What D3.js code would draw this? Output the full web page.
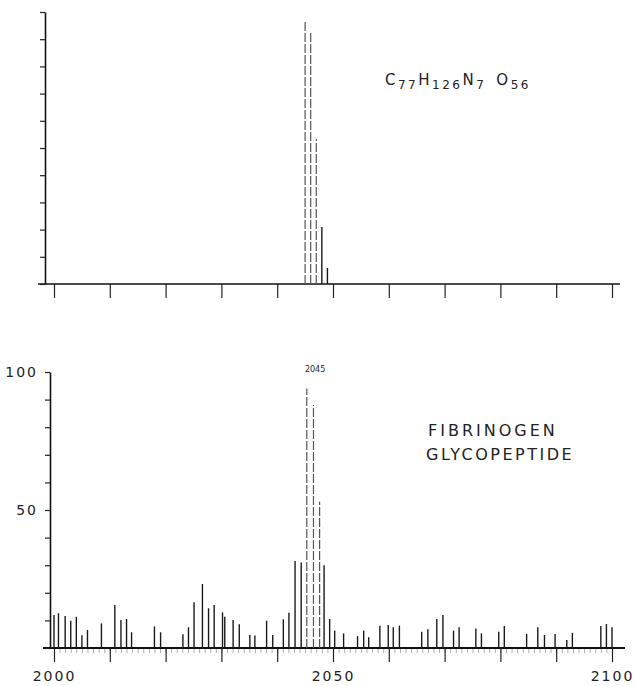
<!DOCTYPE html>
<html>
<head>
<meta charset="utf-8">
<script src="https://cdn.jsdelivr.net/npm/d3@7"></script>
<style>
  body { margin: 0; background: #fff; }
  text { font-family: "DejaVu Sans", sans-serif; fill: #222; }
</style>
</head>
<body>
<div id="chart"></div>
<script>
// theoretical isotope pattern (top)
const calcMass = [2045, 2046, 2047, 2048, 2049];
const calcInt = [96.8, 93, 53.3, 21, 5.9];

const obsMass = [2000.0, 2000.8, 2002.0, 2003.0, 2004.0, 2005.0, 2006.0, 2008.5, 2010.9, 2012.0,
  2013.0, 2013.9, 2018.0, 2019.1, 2023.1, 2024.1, 2025.1, 2026.6, 2027.7, 2028.7,
  2030.2, 2030.6, 2032.1, 2033.2, 2035.1, 2036.0, 2038.1, 2039.2, 2041.1, 2042.1,
  2043.2, 2044.3, 2045.3, 2046.5, 2047.6, 2048.4, 2049.4, 2050.3, 2051.9, 2054.4,
  2055.5, 2056.4, 2058.4, 2059.9, 2060.8, 2061.9, 2065.9, 2067.0, 2068.6, 2069.7,
  2071.6, 2072.6, 2075.6, 2076.6, 2079.7, 2080.7, 2084.7, 2086.7, 2087.9, 2089.8,
  2091.9, 2092.9, 2098.0, 2099.0, 2100.0];
const obsInt = [12, 12.6, 11.6, 9.9, 11.3, 4.6, 6.5, 8.9, 15.6, 10.1,
  10.5, 5.7, 7.8, 5.7, 5.0, 7.5, 16.6, 23.2, 14.4, 15.6,
  12.9, 11.3, 10.1, 8.6, 4.7, 4.5, 9.9, 4.7, 10.4, 12.8,
  31.5, 31, 94, 88, 53, 30, 10.5, 6.3, 5.3, 4.3,
  6.3, 3.9, 8.1, 8.3, 7.5, 8.1, 5.9, 6.8, 10.5, 12,
  6.3, 7.5, 7.1, 5.3, 5.9, 8, 5.1, 7.5, 4.7, 5.1,
  2.9, 5.5, 8, 8.7, 7.5];

const majorTicks = d3.range(2000, 2101, 10);
const minorTicks = d3.range(2000, 2101, 1);
const yTicks = d3.range(0, 101, 10);
const xLabels = [2000, 2050, 2100];
const yLabels = [50, 100];
const peakLabel = 2045;

const width = 634, height = 686;

const svg = d3.select("#chart").append("svg")
    .attr("width", width)
    .attr("height", height);

svg.append("rect").attr("width", width).attr("height", height).attr("fill", "#fff");

const x = d3.scaleLinear().domain([2000, 2100]).range([54, 612]);

const panels = [
  { mass: calcMass, inten: calcInt, y: d3.scaleLinear().domain([0, 100]).range([284, 12]), axisX: 45, labels: false },
  { mass: obsMass, inten: obsInt, y: d3.scaleLinear().domain([0, 100]).range([648, 372]), axisX: 50, labels: true }
];

panels.forEach(p => {
  const g = svg.append("g");
  const base = p.y(0);

  // minor ticks under the measured spectrum
  if (p.labels) {
    g.append("g")
        .attr("transform", `translate(0,${base})`)
        .call(d3.axisBottom(x).tickValues(minorTicks).tickSize(5).tickSizeOuter(0).tickFormat(""))
        .call(a => a.select(".domain").remove())
        .call(a => a.selectAll("line").attr("stroke", "#999").attr("stroke-width", 0.8));
  }

  // major ticks
  g.append("g")
      .attr("transform", `translate(0,${base})`)
      .call(d3.axisBottom(x).tickValues(majorTicks).tickSize(14).tickSizeOuter(0).tickPadding(9)
        .tickFormat(d => (p.labels && xLabels.includes(d)) ? d : ""))
      .call(a => a.select(".domain").remove())
      .call(a => a.selectAll("line").attr("stroke", "#222").attr("stroke-width", 1.2))
      .call(a => a.selectAll("text").attr("font-size", 14).attr("letter-spacing", 2)
        .attr("font-family", "DejaVu Sans").attr("fill", "#222"));

  // baseline
  g.append("line")
      .attr("x1", p.axisX - 7).attr("x2", p.labels ? 625 : 620)
      .attr("y1", base).attr("y2", base)
      .attr("stroke", "#111").attr("stroke-width", p.labels ? 2.2 : 1.5);

  // y axis
  g.append("g")
      .attr("transform", `translate(${p.axisX},0)`)
      .call(d3.axisLeft(p.y).tickValues(yTicks).tickSize(5).tickSizeOuter(0).tickPadding(7)
        .tickFormat(d => (p.labels && yLabels.includes(d)) ? d : ""))
      .call(a => a.select(".domain").attr("stroke", "#111").attr("stroke-width", 1.6))
      .call(a => a.selectAll("line").attr("stroke", "#222").attr("stroke-width", 1.2))
      .call(a => a.selectAll("text").attr("font-size", 14).attr("letter-spacing", 2)
        .attr("font-family", "DejaVu Sans").attr("fill", "#222"));

  // peaks
  const data = p.mass.map((m, i) => ({ m, v: p.inten[i] }));
  g.selectAll(".peak")
    .data(data)
    .join("line")
      .attr("class", "peak")
      .attr("x1", d => x(d.m)).attr("x2", d => x(d.m))
      .attr("y1", base).attr("y2", d => p.y(d.v))
      .attr("stroke", d => d.v > 40 ? "#555" : "#1a1a1a")
      .attr("stroke-width", d => d.v > 40 ? 1.2 : 1.4)
      .attr("stroke-dasharray", d => d.v > 40 ? "9 2" : null);
});

// formula label
const formula = svg.append("text")
    .attr("x", 385).attr("y", 85)
    .attr("font-size", 15);
[["C", 0], ["77", 1], ["H", -1], ["126", 1], ["N", -1], ["7", 1], ["\u2002O", -1], ["56", 1]].forEach(([t, s]) => {
  formula.append("tspan")
      .attr("font-size", s === 1 ? 12 : 15)
      .attr("dy", s * 4)
      .attr("letter-spacing", 2.5)
      .text(t);
});

// sample label
svg.append("text").attr("x", 428).attr("y", 436)
    .attr("font-size", 16).attr("letter-spacing", 3).text("FIBRINOGEN");
svg.append("text").attr("x", 426).attr("y", 460)
    .attr("font-size", 16).attr("letter-spacing", 2.5).text("GLYCOPEPTIDE");

// base peak label
svg.append("text")
    .attr("x", x(peakLabel) + 10).attr("y", 372)
    .attr("text-anchor", "middle")
    .attr("font-size", 8)
    .text(peakLabel);
</script>
</body>
</html>
